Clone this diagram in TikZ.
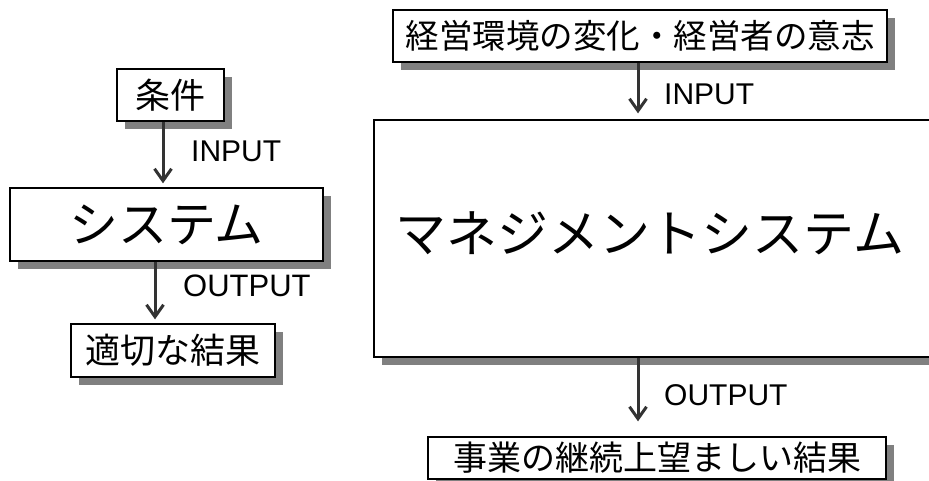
\documentclass[tikz,border=0pt]{standalone}
\usepackage{fontspec}
\setmainfont{Liberation Sans}
\newfontfamily\cjk{Noto Sans CJK JP}
\usetikzlibrary{arrows.meta,shadows}
\begin{document}
\begin{tikzpicture}[x=1pt,y=-1pt,
  box/.style={draw, line width=1.3pt, fill=white, inner sep=0pt, rectangle,
    drop shadow={shadow xshift=8pt, shadow yshift=-8pt, fill=black!50, opacity=1}},
  bigtxt/.style={font=\cjk\fontsize{49}{55}\selectfont},
  smtxt/.style={font=\cjk\fontsize{35}{40}\selectfont},
  arr/.style={line width=3pt, draw=black!80, -{Straight Barb[length=12pt,width=17pt]}},
  lab/.style={font=\fontsize{30}{34}\selectfont, anchor=west, inner sep=0pt}]
\path[use as bounding box, fill=white] (0,0) rectangle (929,481);
\clip (0,0) rectangle (929,481);
% left column
\node[box, smtxt, minimum width=107pt, minimum height=52pt] (jouken) at (170.5,95) {条件};
\node[box, bigtxt, minimum width=313pt, minimum height=73pt] (sys) at (166.5,224.5) {システム};
\node[box, smtxt, minimum width=204pt, minimum height=53pt] (res) at (173,350.5) {適切な結果};
\coordinate (ax1) at (163,0);
\coordinate (ax2) at (155,0);
\draw[arr, shorten >=4pt] (jouken.south -| ax1) -- (sys.north -| ax1);
\draw[arr, shorten >=4pt] (sys.south -| ax2) -- (res.north -| ax2);
\node[lab] (linp) at (191,151) {INPUT};
\node[lab, font=\fontsize{31}{35}\selectfont] (lout) at (183,286) {OUTPUT};
% right column
\node[box, font=\cjk\fontsize{33.5}{38}\selectfont, minimum width=494pt, minimum height=52pt] (env) at (640,36) {経営環境の変化・経営者の意志};
\node[box, minimum width=566pt, minimum height=237pt] (mgmt) at (657,238.5) {};
\node[font=\cjk\fontsize{51}{57}\selectfont, inner sep=0pt] (mgmttxt) at (650,233) {マネジメントシステム};
\node[box, font=\cjk\fontsize{34}{38}\selectfont, minimum width=458pt, minimum height=42pt] (goal) at (657,458) {事業の継続上望ましい結果};
\coordinate (ax3) at (638,0);
\draw[arr, shorten >=6pt] (env.south -| ax3) -- (mgmt.north -| ax3);
\draw[arr, shorten >=15pt] (mgmt.south -| ax3) -- (goal.north -| ax3);
\node[lab] (rinp) at (664,94) {INPUT};
\node[lab] (rout) at (664,395) {OUTPUT};
\end{tikzpicture}
\end{document}
